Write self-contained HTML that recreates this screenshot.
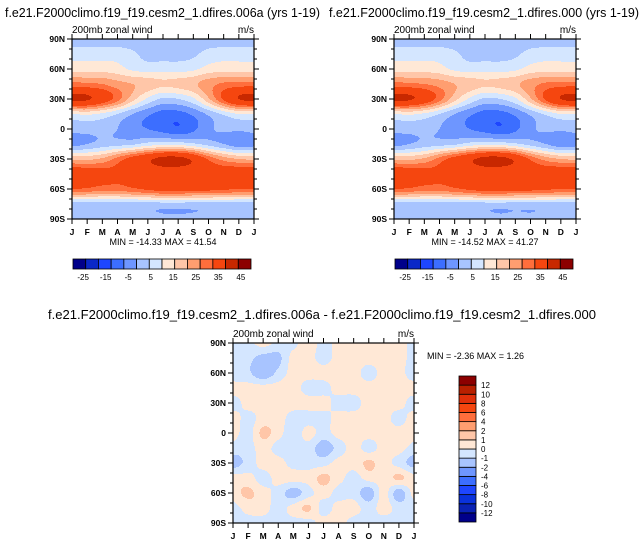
<!DOCTYPE html>
<html><head><meta charset="utf-8">
<style>
html,body{margin:0;padding:0;background:#fff;}
svg{display:block;font-family:"Liberation Sans",Arial,sans-serif;}
</style></head>
<body>
<svg id="chart" width="644" height="547" viewBox="0 0 644 547" xmlns="http://www.w3.org/2000/svg">
<text x="5" y="17" font-size="13" textLength="315" lengthAdjust="spacingAndGlyphs">f.e21.F2000climo.f19_f19.cesm2_1.dfires.006a (yrs 1-19)</text>
<text x="329" y="17" font-size="13" textLength="310" lengthAdjust="spacingAndGlyphs">f.e21.F2000climo.f19_f19.cesm2_1.dfires.000 (yrs 1-19)</text>
<text x="48" y="319" font-size="13" textLength="548" lengthAdjust="spacingAndGlyphs">f.e21.F2000climo.f19_f19.cesm2_1.dfires.006a - f.e21.F2000climo.f19_f19.cesm2_1.dfires.000</text>
</svg>
<script>
// ---- data ----
const months = ["J","F","M","A","M","J","J","A","S","O","N","D","J"];
const lats = [90,75,60,45,30,15,0,-15,-30,-45,-60,-75,-90];
const latLabels = ["90N","60N","30N","0","30S","60S","90S"];
const latTicks = [90,60,30,0,-30,-60,-90];
const levelsTop = [-25,-20,-15,-10,-5,0,5,10,15,20,25,35,45];
const levelLabelsTop = ["-25","-15","-5","5","15","25","35","45"];
const colorsTop = ["#00008a","#0a28c8","#1e46ff","#3c6eff","#6e96ff","#a8c4ff","#d4e6ff","#ffe8d6","#ffc6a8","#ff9e70","#ff6e3c","#f5460f","#c82800","#8c0000"];
const levelsDiff = [-12,-10,-8,-6,-4,-2,-1,0,1,2,4,6,8,10,12];
const colorsDiff = ["#00008a","#0a22b4","#0a32dc","#1e46ff","#3c6eff","#6e96ff","#a8c4ff","#d4e6ff","#ffe8d6","#ffc6a8","#ff9e70","#ff6e3c","#f5460f","#e0300a","#b82000","#8c0000"];
const fieldA = [
 [-3,-3,-3,-3,-3,-3,-3,-3,-3,-3,-3,-3,-3],
 [3,3,3,3,1,-2,-2,-2,-1,2,3,3,3],
 [8,8,8,7,4,3,3,3,4,7,8,8,8],
 [22,21,20,17,15,13,11,12,14,18,21,22,22],
 [37,36,30,22,12,4,-1,0,4,14,26,35,37],
 [5,6,4,0,-5,-9,-12,-12,-9,-4,1,5,5],
 [-3,-3,-3,-5,-8,-10,-12,-14,-11,-6,-4,-4,-3],
 [-7,-5,-3,-2,-1,2,3,3,1,-2,-5,-8,-7],
 [14,14,16,22,28,33,38,38,33,24,18,15,14],
 [31,30,28,26,26,27,28,28,28,29,30,31,31],
 [25,24,22,22,24,26,28,28,27,27,26,25,25],
 [-2,-2,-2,-2,-2,-2,-2,-2,-2,-2,-2,-2,-2],
 [-4,-4,-4,-4,-4,-4,-4.6,-4.7,-4.5,-4,-4,-4,-4]];
const fieldB = [
 [-3,-3,-3,-3,-3,-3,-3,-3,-3,-3,-3,-3,-3],
 [3,3,3,3,1,-2,-2,-2,-1,2,3,3,3],
 [8,8,8,7,4,3,3,3,4,7,8,8,8],
 [22,21,20,18,15,13,11,12,14,18,21,22,22],
 [37,36,31,22,12,4,-1,0,4,14,26,35,37],
 [5,6,4,0,-5,-9,-12,-12,-9,-4,1,5,5],
 [-3,-3,-3,-5,-7,-10,-12,-14,-11,-6,-4,-4,-3],
 [-7,-5,-3,-2,-1,2,3,3,1,-2,-5,-8,-7],
 [14,14,16,22,28,33,38,38,33,24,18,15,14],
 [31,30,28,26,26,27,28,28,28,29,30,31,31],
 [25,24,22,22,24,26,28,28,27,27,26,25,25],
 [-2,-2,-2,-2,-2,-2,-2,-2,-2,-2,-2,-2,-2],
 [-4,-4,-4,-4,-4.5,-4.2,-4,-4.6,-4.3,-4.5,-4,-4,-4]];
const fieldDiff = [
 [-0.3,-0.3,0.4,-0.3,-0.3,0.6,-0.4,0.4,0.4,0.4,0.4,0.4,-0.3],
 [-0.4,-0.7,-1.4,-1.3,0.4,0.4,-0.4,0.4,0.4,0.4,0.4,0.4,-0.4],
 [-0.6,-0.8,-1.8,-0.7,0.4,0.4,0.4,0.4,0.4,-0.4,0.4,0.4,-0.4],
 [0.4,0.4,0.4,0.4,0.4,-0.4,-0.4,0.4,0.4,0.4,0.4,0.4,0.4],
 [-0.4,0.4,0.4,0.4,0.4,0.4,0.4,-0.4,-0.4,0.4,0.4,0.4,-0.7],
 [0.4,-0.4,0.4,0.4,-0.4,-0.4,-0.4,0.4,0.4,0.4,0.4,-0.4,0.4],
 [0.4,-0.4,1.3,0.4,-0.6,0.4,-0.4,0.4,0.4,0.4,0.4,0.4,0.4],
 [-0.4,-0.4,0.4,-0.4,-0.4,-0.4,-1.6,-0.6,0.4,-0.4,0.4,0.4,-0.4],
 [-1.4,-0.6,0.4,0.4,-0.4,-0.4,-0.4,0.4,0.4,1.2,0.4,-0.4,-0.4],
 [0.4,0.4,-0.4,0.4,0.4,0.4,1.3,0.4,-0.4,0.4,0.4,1.2,0.4],
 [0.4,1.2,0.4,-0.4,-1.5,-0.4,0.4,-0.4,-0.4,-1.6,0.4,-1.6,0.4],
 [-0.4,0.4,0.4,-0.4,0.4,1.2,-0.4,0.4,0.4,-0.4,0.4,-0.4,0.4],
 [-0.4,-0.4,-0.4,-0.4,-0.4,-0.4,0.4,0.4,-0.4,-0.4,-0.4,-0.4,-0.4]];
const diffLabels = ["12","10","8","6","4","2","1","0","-1","-2","-4","-6","-8","-10","-12"];

const NS="http://www.w3.org/2000/svg";
const svg=document.getElementById('chart');
function mk(tag,attrs,parent){const e=document.createElementNS(NS,tag);for(const k in attrs)e.setAttribute(k,attrs[k]);(parent||svg).appendChild(e);return e;}
function bin(v,levels){let i=0;while(i<levels.length&&v>=levels[i])i++;return i;}
function cr(p0,p1,p2,p3,t){return 0.5*((2*p1)+(-p0+p2)*t+(2*p0-5*p1+4*p2-p3)*t*t+(-p0+3*p1-3*p2+p3)*t*t*t);}
function getv(f,r,c){r=Math.max(0,Math.min(12,r));c=((c%12)+12)%12;return f[r][c];}
function sample(f,cx,ry){
 cx=Math.max(0,Math.min(12,cx));ry=Math.max(0,Math.min(12,ry));
 const c0=Math.min(11,Math.floor(cx)),r0=Math.min(11,Math.floor(ry));
 const tx=cx-c0,ty=ry-r0;
 const rows=[];
 for(let k=-1;k<=2;k++){const r=r0+k;rows.push(cr(getv(f,r,c0-1),getv(f,r,c0),getv(f,r,c0+1),getv(f,r,c0+2),tx));}
 return cr(rows[0],rows[1],rows[2],rows[3],ty);
}
function panel(name,x0,y0,w,h,field,levels,colors,minmax,mmx,mmy,mmAnchor){
 const g=mk('g',{});
 
 
 const xS=m=>x0+m*w/12, yS=lat=>y0+(90-lat)*h/180;
 for(let py=0;py<h;py++){
  const ry=(py+0.5)*12/h;
  let runStart=0,runBin=-1;
  for(let px=0;px<=w;px++){
   let b=-2;
   if(px<w){b=bin(sample(field,(px+0.5)*12/w,ry),levels);}
   if(b!==runBin){
    if(runBin>=0){const r=mk('rect',{x:x0+runStart,y:y0+py,width:px-runStart+0.4,height:1.4,fill:colors[runBin]},g);
     
     }
    runStart=px;runBin=b;
   }
  }
 }
 mk('rect',{x:x0,y:y0,width:w,height:h,fill:'none',stroke:'#000','stroke-width':1.2},g);
 for(let lat=-90;lat<=90;lat+=10){
  const y=yS(lat),maj=lat%30===0;
  const L=maj?5:3;
  mk('line',{x1:x0-L,y1:y,x2:x0,y2:y,stroke:'#000','stroke-width':1},g);
  mk('line',{x1:x0+w,y1:y,x2:x0+w+L,y2:y,stroke:'#000','stroke-width':1},g);
 }
 latTicks.forEach((lat,i)=>{
  const t=mk('text',{x:x0-7,y:yS(lat)+3,'font-size':8.5,'font-weight':'bold','text-anchor':'end'},g);
  t.textContent=latLabels[i];
  
  
 });
 months.forEach((m,i)=>{
  const x=xS(i);
  mk('line',{x1:x,y1:y0+h,x2:x,y2:y0+h+5,stroke:'#000','stroke-width':1},g);
  mk('line',{x1:x,y1:y0-5,x2:x,y2:y0,stroke:'#000','stroke-width':1},g);
  const t=mk('text',{x:x,y:y0+h+16,'font-size':8.5,'font-weight':'bold','text-anchor':'middle'},g);
  t.textContent=m;
  
  
 });
 const s=mk('text',{x:x0,y:y0-6,'font-size':10},g);s.textContent='200mb zonal wind';
 
 
 const u=mk('text',{x:x0+w,y:y0-6,'font-size':10,'text-anchor':'end'},g);u.textContent='m/s';
 
 
 const mmT=mk('text',{x:mmx,y:mmy,'font-size':9,'text-anchor':mmAnchor},g);mmT.textContent=minmax;
 
 
}
function hbar(name,x0,y0,w,h,colors){
 const g=mk('g',{});
 
 
 const bw=w/colors.length;
 colors.forEach((c,i)=>{const r=mk('rect',{x:x0+i*bw,y:y0,width:bw,height:h,fill:c,stroke:'#000','stroke-width':0.8},g);
  
  });
 const first=x0+bw*0.8,last=x0+bw*13.2,n=levelLabelsTop.length;
 levelLabelsTop.forEach((l,k)=>{const t=mk('text',{x:first+k*(last-first)/(n-1),y:y0+h+11,'font-size':8,'text-anchor':'middle'},g);t.textContent=l;
  
  });
}
panel('panel-a',72,39,182,180,fieldA,levelsTop,colorsTop,'MIN = -14.33 MAX =  41.54',163,245,'middle');
panel('panel-b',394,39,182,180,fieldB,levelsTop,colorsTop,'MIN = -14.52 MAX =  41.27',485,245,'middle');
panel('panel-diff',233,343,181,180,fieldDiff,levelsDiff,colorsDiff,'MIN =  -2.36 MAX =   1.26',427,359,'start');
hbar('colorbar-a',73,259,178,10,colorsTop);
hbar('colorbar-b',395,259,178,10,colorsTop);
(function(){
 const g=mk('g',{});
 
 
 const x0=459,y0=376,w=17,h=146,n=colorsDiff.length,bh=h/n;
 colorsDiff.forEach((c,i)=>{const r=mk('rect',{x:x0,y:y0+h-(i+1)*bh,width:w,height:bh,fill:c,stroke:'#000','stroke-width':0.8},g);
  
  });
 diffLabels.forEach((l,i)=>{const t=mk('text',{x:x0+w+5,y:y0+(i+1)*bh+3,'font-size':8},g);t.textContent=l;
  
  });
})();
</script>
</body></html>
